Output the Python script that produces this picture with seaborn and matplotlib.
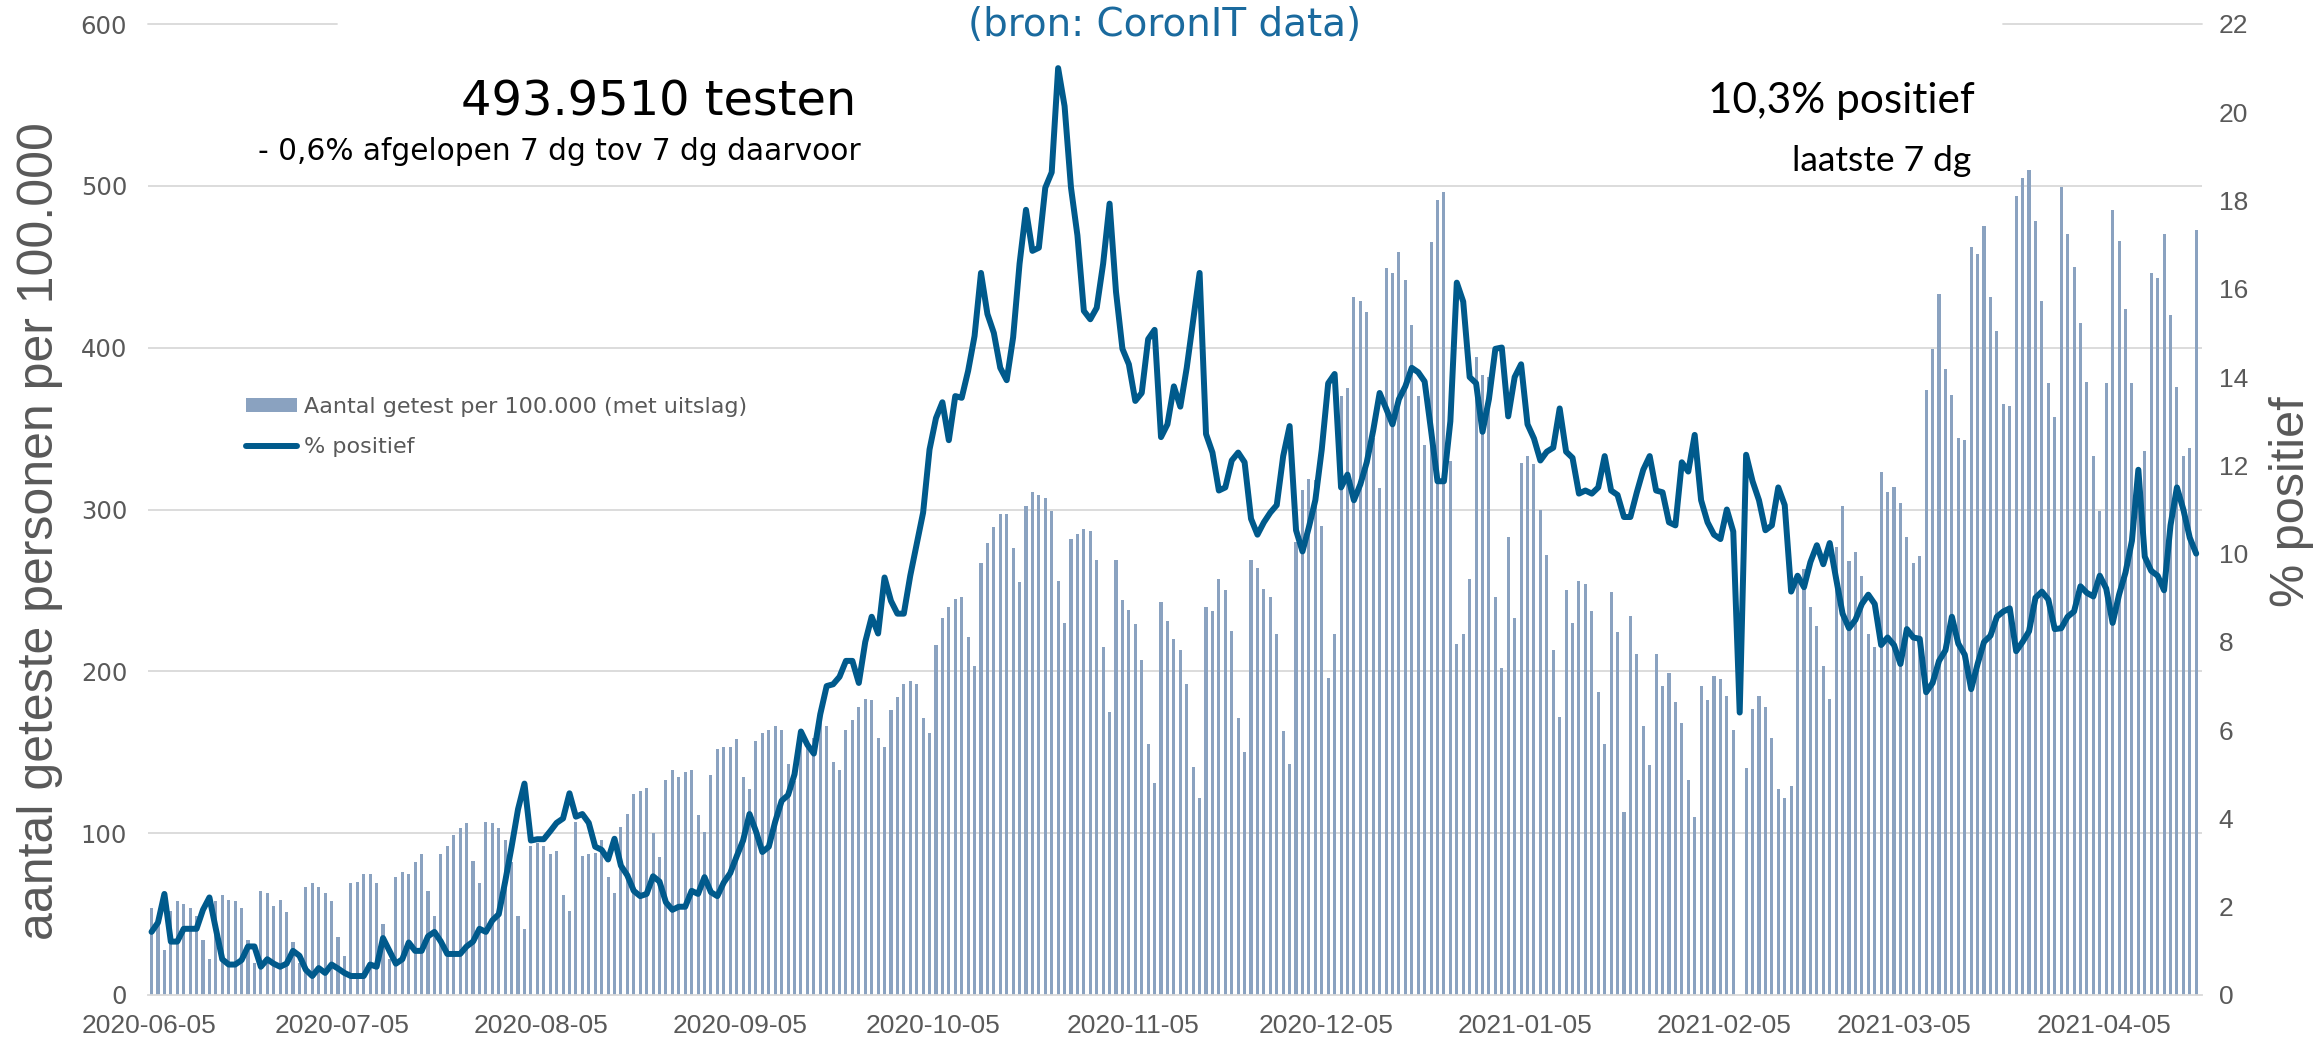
import numpy as np
import pandas as pd
import matplotlib
matplotlib.use("Agg")
import matplotlib.pyplot as plt
import seaborn as sns
from matplotlib import font_manager
from matplotlib.lines import Line2D
from matplotlib.patches import Patch

# dagelijkse data vanaf 2020-06-05 (1 waarde per dag)
start = "2020-06-05"

getest = [
    54, 45, 28, 52, 58, 56, 54,
    49, 34, 22, 58, 62, 59, 58,
    54, 34, 20, 64, 63, 55, 59,
    51, 33, 20, 67, 69, 67, 63,
    58, 36, 24, 69, 70, 75, 75,
    69, 44, 22, 73, 76, 75, 82,
    87, 64, 49, 87, 92, 99, 103,
    106, 83, 69, 107, 106, 103, 96,
    82, 49, 41, 92, 94, 92, 87,
    89, 62, 52, 107, 86, 87, 88,
    96, 73, 63, 104, 112, 124, 126,
    128, 100, 85, 133, 139, 135, 138,
    139, 111, 101, 136, 152, 153, 153,
    158, 135, 127, 157, 162, 164, 166,
    164, 143, 132, 162, 157, 159, 169,
    166, 144, 139, 164, 170, 178, 183,
    182, 159, 153, 176, 184, 192, 194,
    192, 171, 162, 216, 233, 240, 245,
    246, 221, 203, 267, 279, 289, 297,
    297, 276, 255, 302, 311, 309, 307,
    299, 256, 230, 282, 285, 288, 287,
    269, 215, 175, 269, 244, 238, 229,
    207, 155, 131, 243, 231, 220, 213,
    192, 141, 122, 240, 237, 257, 250,
    225, 171, 150, 269, 264, 251, 246,
    223, 163, 143, 280, 312, 319, 318,
    290, 196, 223, 370, 375, 431, 429,
    422, 344, 313, 449, 446, 459, 442,
    414, 370, 340, 465, 491, 496, 330,
    217, 223, 257, 394, 383, 382, 246,
    202, 283, 233, 329, 333, 328, 300,
    272, 213, 172, 250, 230, 256, 254,
    237, 187, 155, 249, 224, 113, 234,
    211, 166, 142, 211, 191, 199, 181,
    168, 133, 110, 191, 182, 197, 195,
    185, 164, np.nan, 140, 177, 185, 178,
    159, 127, 122, 129, 260, 263, 240,
    228, 203, 183, 277, 302, 268, 274,
    259, 223, 215, 323, 311, 314, 304,
    283, 267, 271, 374, 399, 433, 387,
    371, 344, 343, 462, 458, 475, 431,
    410, 365, 364, 494, 505, 510, 478,
    429, 378, 357, 499, 470, 450, 415,
    379, 333, 299, 378, 485, 466, 424,
    378, 321, 336, 446, 443, 470, 420,
    376, 333, 338, 473,
]

positief = [
    1.43, 1.64, 2.29, 1.21, 1.21, 1.50, 1.50,
    1.50, 1.93, 2.21, 1.50, 0.81, 0.69, 0.69,
    0.79, 1.10, 1.10, 0.64, 0.81, 0.71, 0.64,
    0.71, 1.00, 0.89, 0.57, 0.43, 0.61, 0.50,
    0.69, 0.60, 0.50, 0.43, 0.43, 0.43, 0.69,
    0.64, 1.29, 1.00, 0.71, 0.81, 1.19, 1.00,
    1.00, 1.33, 1.43, 1.21, 0.93, 0.93, 0.93,
    1.10, 1.21, 1.50, 1.43, 1.69, 1.83, 2.57,
    3.36, 4.21, 4.79, 3.50, 3.53, 3.53, 3.71,
    3.90, 4.00, 4.57, 4.04, 4.10, 3.90, 3.36,
    3.29, 3.07, 3.54, 2.93, 2.71, 2.36, 2.24,
    2.29, 2.69, 2.57, 2.10, 1.93, 2.00, 2.00,
    2.36, 2.29, 2.67, 2.33, 2.24, 2.55, 2.76,
    3.14, 3.50, 4.10, 3.71, 3.24, 3.36, 3.93,
    4.40, 4.53, 5.00, 5.97, 5.67, 5.47, 6.36,
    7.00, 7.04, 7.21, 7.57, 7.57, 7.07, 8.00,
    8.57, 8.19, 9.46, 8.93, 8.64, 8.64, 9.50,
    10.21, 10.93, 12.36, 13.07, 13.43, 12.57, 13.57,
    13.53, 14.14, 14.93, 16.36, 15.43, 15.00, 14.21,
    13.93, 14.90, 16.57, 17.79, 16.86, 16.93, 18.29,
    18.64, 21.00, 20.14, 18.29, 17.21, 15.50, 15.31,
    15.57, 16.57, 17.93, 15.93, 14.64, 14.29, 13.46,
    13.64, 14.86, 15.07, 12.64, 12.93, 13.79, 13.33,
    14.21, 15.29, 16.36, 12.71, 12.29, 11.43, 11.50,
    12.11, 12.29, 12.07, 10.79, 10.43, 10.71, 10.93,
    11.10, 12.21, 12.89, 10.53, 10.05, 10.60, 11.21,
    12.36, 13.86, 14.07, 11.50, 11.79, 11.21, 11.57,
    12.07, 12.79, 13.64, 13.29, 12.93, 13.50, 13.79,
    14.21, 14.11, 13.90, 12.79, 11.64, 11.64, 13.00,
    16.14, 15.71, 14.00, 13.86, 12.76, 13.50, 14.64,
    14.67, 13.11, 14.00, 14.29, 12.93, 12.61, 12.11,
    12.31, 12.40, 13.29, 12.31, 12.17, 11.36, 11.43,
    11.36, 11.50, 12.21, 11.43, 11.33, 10.83, 10.83,
    11.39, 11.90, 12.21, 11.43, 11.39, 10.71, 10.64,
    12.07, 11.86, 12.69, 11.21, 10.71, 10.43, 10.33,
    11.00, 10.50, 6.40, 12.24, 11.64, 11.21, 10.53,
    10.64, 11.50, 11.10, 9.14, 9.50, 9.24, 9.81,
    10.19, 9.76, 10.24, 9.43, 8.64, 8.31, 8.50,
    8.86, 9.07, 8.86, 7.93, 8.10, 7.93, 7.50,
    8.29, 8.10, 8.07, 6.86, 7.07, 7.57, 7.81,
    8.57, 7.96, 7.71, 6.93, 7.50, 8.00, 8.14,
    8.57, 8.69, 8.76, 7.79, 8.00, 8.24, 9.00,
    9.14, 8.96, 8.29, 8.31, 8.57, 8.69, 9.26,
    9.11, 9.03, 9.50, 9.21, 8.43, 9.07, 9.57,
    10.29, 11.90, 9.93, 9.61, 9.50, 9.17, 10.64,
    11.50, 11.00, 10.36, 10.00,
]

tick_dates = ["2020-06-05", "2020-07-05", "2020-08-05", "2020-09-05",
              "2020-10-05", "2020-11-05", "2020-12-05", "2021-01-05",
              "2021-02-05", "2021-03-05", "2021-04-05"]

bar_kleur = "#8AA2C0"
lijn_kleur = "#005A8C"
grijs = "#595959"
raster = "#D9D9D9"

df = pd.DataFrame({
    "dag": np.arange(len(getest)),
    "getest": getest,
    "positief": positief,
})

sns.set_style("white")
plt.rcParams["font.family"] = ["DejaVu Sans"]

names = {f.name for f in font_manager.fontManager.ttflist}
arial = "Liberation Sans" if "Liberation Sans" in names else "DejaVu Sans"
calibri = "Lato" if "Lato" in names else "DejaVu Sans"

W, H = 2315, 1040
fig = plt.figure(figsize=(W / 100, H / 100), dpi=100)
ax = fig.add_axes([148 / W, 45 / H, 2054 / W, 971 / H])

sns.barplot(data=df, x="dag", y="getest", native_scale=True, width=0.48,
            color=bar_kleur, saturation=1, errorbar=None, linewidth=0, ax=ax)

ax2 = ax.twinx()
sns.lineplot(data=df, x="dag", y="positief", color=lijn_kleur, linewidth=4.3,
             solid_joinstyle="round", solid_capstyle="round", ax=ax2)

ax.set_xlim(-0.55, 318.9)
ax2.set_xlim(-0.55, 318.9)

# x-as
start_ts = pd.Timestamp(start)
tick_pos = [(pd.Timestamp(d) - start_ts).days - 0.4 for d in tick_dates]
ax.set_xticks(tick_pos)
ax.set_xticklabels(tick_dates, fontfamily=arial, fontsize=19, color=grijs)
ax.tick_params(axis="x", length=8, width=1.2, color=raster, pad=6)

# linker y-as
ax.set_ylim(0, 600)
ax.set_yticks(range(0, 601, 100))
ax.set_yticklabels([str(v) for v in range(0, 601, 100)], fontsize=17.5, color=grijs)
ax.tick_params(axis="y", length=0, pad=15)

# rechter y-as
ax2.set_ylim(0, 22)
ax2.set_yticks(range(0, 23, 2))
ax2.set_yticklabels([str(v) for v in range(0, 23, 2)], fontfamily=arial,
                    fontsize=19, color=grijs)
ax2.tick_params(axis="y", length=0, pad=12)

ax.set_xlabel("")
ax.set_ylabel("")
ax2.set_ylabel("")

for s in ["top", "left", "right"]:
    ax.spines[s].set_visible(False)
for s in ax2.spines.values():
    s.set_visible(False)
ax.spines["bottom"].set_color(raster)
ax.spines["bottom"].set_linewidth(1.3)

# rasterlijnen
ax.set_axisbelow(True)
for v in [100, 200, 300, 400, 500]:
    ax.axhline(v, color=raster, lw=1.3, zorder=0)
ax.axhline(600, xmax=0.092, color=raster, lw=1.3, zorder=0, clip_on=False)
ax.axhline(600, xmin=0.903, color=raster, lw=1.3, zorder=0, clip_on=False)

# teksten
fig.text(1165 / W, 1 - 36 / H, "(bron: CoronIT data)", ha="center", va="baseline",
         fontsize=28, color="#1A6A9E")
fig.text(856 / W, 1 - 115 / H, "493.9510 testen", ha="right", va="baseline",
         fontsize=34.5, color="black")
fig.text(861 / W, 1 - 160 / H, "- 0,6% afgelopen 7 dg tov 7 dg daarvoor",
         ha="right", va="baseline", fontsize=21.3, color="black")
fig.text(1975 / W, 1 - 113 / H, "10,3% positief", ha="right", va="baseline",
         fontsize=30.5, fontfamily=calibri, color="black")
fig.text(1971 / W, 1 - 171 / H, "laatste 7 dg", ha="right", va="baseline",
         fontsize=25.5, fontfamily=calibri, color="black")

fig.text(40 / W, 1 - 531 / H, "aantal geteste personen per 100.000", rotation=90,
         ha="center", va="center", fontsize=36, fontfamily=arial, color=grijs)
fig.text(2291 / W, 1 - 502 / H, "% positief", rotation=90,
         ha="center", va="center", fontsize=35, fontfamily=arial, color=grijs)

# legenda
handles = [Patch(facecolor=bar_kleur, edgecolor="none"),
           Line2D([], [], color=lijn_kleur, lw=4.3)]
labels = ["Aantal getest per 100.000 (met uitslag)", "% positief"]
leg = ax2.legend(handles, labels, loc="center left",
                 bbox_to_anchor=(246 / W, 1 - 427 / H), bbox_transform=fig.transFigure,
                 frameon=False, fontsize=16, handlelength=2.3, handleheight=0.55,
                 handletextpad=0.3, labelspacing=0.9, borderpad=0, borderaxespad=0)
for t in leg.get_texts():
    t.set_color(grijs)

fig.savefig("out.png", dpi=100)
